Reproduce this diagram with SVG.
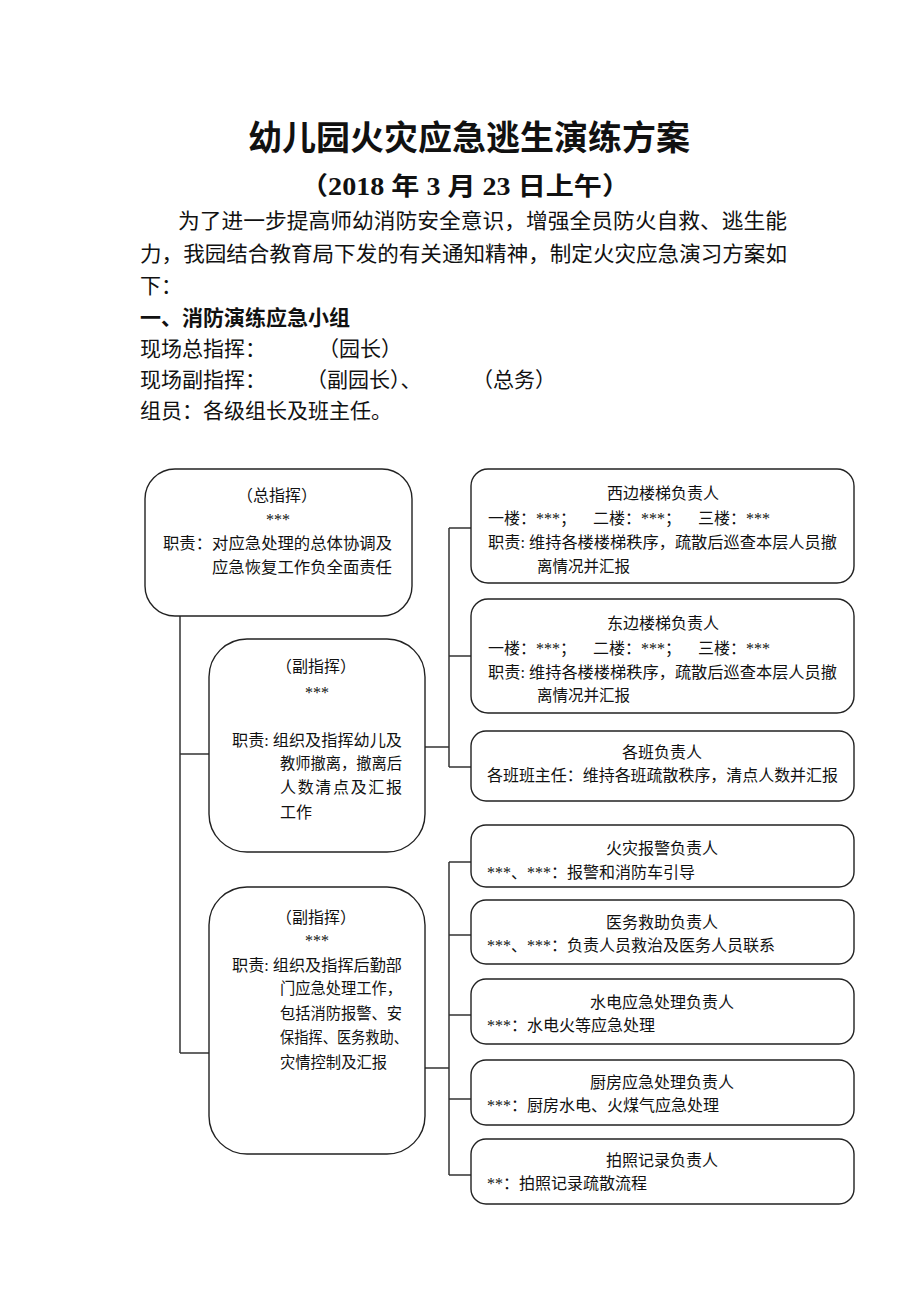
<svg xmlns="http://www.w3.org/2000/svg" width="920" height="1302" viewBox="0 0 920 1302">
<style>
text{font-family:"Liberation Serif","Noto Sans CJK SC",serif;fill:#111;dominant-baseline:central}
.h1{font-size:34px;font-weight:bold;text-anchor:middle}
.h2{font-size:25px;font-weight:bold}
.p{font-size:21px}
.b{font-weight:bold}
.t{font-size:16px}
.c{text-anchor:middle}
.box{fill:#fff;stroke:#222;stroke-width:1.4}
.con{fill:none;stroke:#333;stroke-width:1.5}
</style>
<rect width="920" height="1302" fill="#fff"/>
<g id="header">
<text class="h1" x="469" y="138">幼儿园火灾应急逃生演练方案</text>
<text class="h2" x="300" y="186" textLength="330" lengthAdjust="spacingAndGlyphs">（2018 年 3 月 23 日上午）</text>
<text class="p" x="178" y="221" textLength="609" lengthAdjust="spacingAndGlyphs">为了进一步提高师幼消防安全意识，增强全员防火自救、逃生能</text>
<text class="p" x="140" y="254" textLength="647" lengthAdjust="spacingAndGlyphs">力，我园结合教育局下发的有关通知精神，制定火灾应急演习方案如</text>
<text class="p" x="140" y="286">下：</text>
<text class="p b" x="140" y="318">一、消防演练应急小组</text>
<text class="p" x="140" y="349">现场总指挥：</text>
<text class="p" x="318" y="349">（园长）</text>
<text class="p" x="140" y="380">现场副指挥：</text>
<text class="p" x="306" y="380">（副园长）、</text>
<text class="p" x="472" y="380">（总务）</text>
<text class="p" x="140" y="411">组员：各级组长及班主任。</text>
</g>
<g id="connectors">
<path class="con" d="M180 616V1053M180 754H209M180 1053H209"/>
<path class="con" d="M424 747H449M449 528V767M449 528H471M449 656H471M449 767H471"/>
<path class="con" d="M424 1068H449M449 862V1175M449 862H471M449 935H471M449 1015H471M449 1099H471M449 1175H471"/>
</g>
<g id="n-zong">
<rect class="box" x="145" y="469" width="267" height="147" rx="30"/>
<text class="t c" x="277" y="495">（总指挥）</text>
<text class="t c" x="278" y="519">***</text>
<text class="t" x="163" y="543" textLength="229" lengthAdjust="spacingAndGlyphs">职责：对应急处理的总体协调及</text>
<text class="t" x="212" y="567" textLength="180" lengthAdjust="spacingAndGlyphs">应急恢复工作负全面责任</text>
</g>
<g id="n-fu1">
<rect class="box" x="209" y="639" width="216" height="213" rx="38"/>
<text class="t c" x="316" y="666">（副指挥）</text>
<text class="t c" x="317" y="692">***</text>
<text class="t" x="232" y="740" textLength="170" lengthAdjust="spacingAndGlyphs">职责: 组织及指挥幼儿及</text>
<text class="t" x="280" y="763" textLength="122" lengthAdjust="spacingAndGlyphs">教师撤离，撤离后</text>
<text class="t" x="280" y="787" textLength="122" lengthAdjust="spacing">人数清点及汇报</text>
<text class="t" x="280" y="812">工作</text>
</g>
<g id="n-fu2">
<rect class="box" x="209" y="887" width="216" height="267" rx="38"/>
<text class="t c" x="316" y="917">（副指挥）</text>
<text class="t c" x="317" y="940">***</text>
<text class="t" x="232" y="965" textLength="170" lengthAdjust="spacingAndGlyphs">职责: 组织及指挥后勤部</text>
<text class="t" x="280" y="988" textLength="122" lengthAdjust="spacingAndGlyphs">门应急处理工作，</text>
<text class="t" x="280" y="1013" textLength="122" lengthAdjust="spacingAndGlyphs">包括消防报警、安</text>
<text class="t" x="280" y="1037" textLength="128" lengthAdjust="spacingAndGlyphs">保指挥、医务救助、</text>
<text class="t" x="280" y="1062" textLength="107" lengthAdjust="spacingAndGlyphs">灾情控制及汇报</text>
</g>
<g id="n-west">
<rect class="box" x="471" y="469" width="383" height="114" rx="17"/>
<text class="t c" x="663" y="493">西边楼梯负责人</text>
<text class="t" x="488" y="518">一楼：***；</text>
<text class="t" x="593" y="518">二楼：***；</text>
<text class="t" x="698" y="518">三楼：***</text>
<text class="t" x="488" y="542" textLength="349" lengthAdjust="spacingAndGlyphs">职责: 维持各楼楼梯秩序，疏散后巡查本层人员撤</text>
<text class="t" x="537" y="566" textLength="93" lengthAdjust="spacingAndGlyphs">离情况并汇报</text>
</g>
<g id="n-east">
<rect class="box" x="471" y="599" width="383" height="114" rx="17"/>
<text class="t c" x="663" y="623">东边楼梯负责人</text>
<text class="t" x="488" y="648">一楼：***；</text>
<text class="t" x="593" y="648">二楼：***；</text>
<text class="t" x="698" y="648">三楼：***</text>
<text class="t" x="488" y="672" textLength="349" lengthAdjust="spacingAndGlyphs">职责: 维持各楼楼梯秩序，疏散后巡查本层人员撤</text>
<text class="t" x="537" y="695" textLength="93" lengthAdjust="spacingAndGlyphs">离情况并汇报</text>
</g>
<g id="n-class">
<rect class="box" x="471" y="731" width="383" height="70" rx="15"/>
<text class="t c" x="662" y="752">各班负责人</text>
<text class="t" x="487" y="775" textLength="351" lengthAdjust="spacingAndGlyphs">各班班主任：维持各班疏散秩序，清点人数并汇报</text>
</g>
<g id="n-fire">
<rect class="box" x="471" y="825" width="383" height="62" rx="15"/>
<text class="t c" x="662" y="848">火灾报警负责人</text>
<text class="t" x="487" y="872">***、***：报警和消防车引导</text>
</g>
<g id="n-medical">
<rect class="box" x="471" y="900" width="383" height="64" rx="15"/>
<text class="t c" x="662" y="922">医务救助负责人</text>
<text class="t" x="487" y="945">***、***：负责人员救治及医务人员联系</text>
</g>
<g id="n-utility">
<rect class="box" x="471" y="979" width="383" height="65" rx="15"/>
<text class="t c" x="662" y="1002">水电应急处理负责人</text>
<text class="t" x="487" y="1025">***：水电火等应急处理</text>
</g>
<g id="n-kitchen">
<rect class="box" x="471" y="1060" width="383" height="65" rx="15"/>
<text class="t c" x="662" y="1082">厨房应急处理负责人</text>
<text class="t" x="487" y="1105">***：厨房水电、火煤气应急处理</text>
</g>
<g id="n-photo">
<rect class="box" x="471" y="1139" width="383" height="65" rx="15"/>
<text class="t c" x="662" y="1160">拍照记录负责人</text>
<text class="t" x="487" y="1183">**：拍照记录疏散流程</text>
</g>
</svg>
